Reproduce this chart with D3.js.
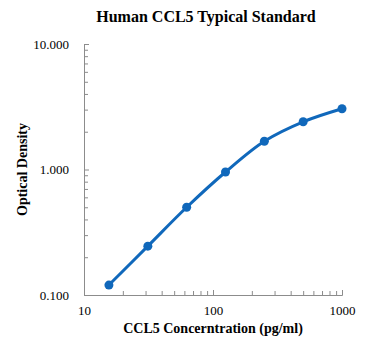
<!DOCTYPE html>
<html>
<head>
<meta charset="utf-8">
<script src="https://cdn.jsdelivr.net/npm/d3@7"></script>
<style>
  body { margin: 0; background: #fff; }
</style>
</head>
<body>
<div id="chart"></div>
<script>
// standard curve data
const concentrations = [15.6, 31.25, 62.5, 125, 250, 500, 1000];
const opticalDensity = [0.12, 0.245, 0.50, 0.955, 1.68, 2.40, 3.05];
const xTickValues = [10, 100, 1000];
const yTickValues = [0.1, 1, 10];

const width = 371, height = 351;
const margin = { top: 44, right: 29, bottom: 56, left: 84 };
const innerW = width - margin.left - margin.right;
const innerH = height - margin.top - margin.bottom;
const blue = "#1068bb";
const axisGrey = "#8c8c8c";
const serif = "'Times New Roman', 'Liberation Serif', 'DejaVu Serif', serif";

const svg = d3.select("#chart").append("svg")
    .attr("width", width)
    .attr("height", height)
    .attr("font-family", serif);

const g = svg.append("g")
    .attr("transform", `translate(${margin.left},${margin.top})`);

// log scales
const x = d3.scaleLog().domain([10, 1000]).range([0, innerW]);
const y = d3.scaleLog().domain([0.1, 10]).range([innerH, 0]);

// minor tick positions
const minorX = [];
[10, 100].forEach(d => { for (let i = 2; i <= 9; i++) minorX.push(d * i); });
const minorY = [];
[0.1, 1].forEach(d => { for (let i = 2; i <= 9; i++) minorY.push(+(d * i).toFixed(2)); });

// x axis (ticks point inward)
const xAxis = g.append("g").attr("transform", `translate(0,${innerH})`);
xAxis.call(d3.axisBottom(x).tickValues(xTickValues).tickSizeInner(-5).tickSizeOuter(0).tickPadding(11).tickFormat(d3.format("d")));
xAxis.append("g").call(d3.axisBottom(x).tickValues(minorX).tickSizeInner(-4).tickSizeOuter(0).tickFormat(""));
xAxis.selectAll("path.domain").attr("stroke", axisGrey);
xAxis.selectAll("line").attr("stroke", axisGrey);
xAxis.attr("font-family", serif).attr("font-size", 13);
xAxis.selectAll("text").attr("fill", "#000");

// y axis (ticks point inward)
const yAxis = g.append("g");
yAxis.call(d3.axisLeft(y).tickValues(yTickValues).tickSizeInner(-5).tickSizeOuter(0).tickPadding(15).tickFormat(d3.format(".3f")));
yAxis.append("g").call(d3.axisLeft(y).tickValues(minorY).tickSizeInner(-4).tickSizeOuter(0).tickFormat(""));
yAxis.selectAll("path.domain").attr("stroke", axisGrey);
yAxis.selectAll("line").attr("stroke", axisGrey);
yAxis.attr("font-family", serif).attr("font-size", 13);
yAxis.selectAll("text").attr("fill", "#000");

// smoothed line
const data = concentrations.map((c, i) => ({ c: c, od: opticalDensity[i] }));
const line = d3.line()
    .x(d => x(d.c))
    .y(d => y(d.od))
    .curve(d3.curveCatmullRom.alpha(0.5));

g.append("path")
    .datum(data)
    .attr("fill", "none")
    .attr("stroke", blue)
    .attr("stroke-width", 3)
    .attr("d", line);

g.selectAll(".dot")
    .data(data)
    .enter().append("circle")
    .attr("class", "dot")
    .attr("cx", d => x(d.c))
    .attr("cy", d => y(d.od))
    .attr("r", 4.5)
    .attr("fill", blue);

// title
svg.append("text")
    .attr("x", 206)
    .attr("y", 22)
    .attr("text-anchor", "middle")
    .attr("font-size", "16px")
    .attr("font-weight", "bold")
    .text("Human CCL5 Typical Standard");

// x label
svg.append("text")
    .attr("x", 213)
    .attr("y", 333)
    .attr("text-anchor", "middle")
    .attr("font-size", "14px")
    .attr("font-weight", "bold")
    .text("CCL5 Concerntration (pg/ml)");

// y label
svg.append("text")
    .attr("transform", `translate(27,${margin.top + innerH / 2}) rotate(-90)`)
    .attr("text-anchor", "middle")
    .attr("font-size", "14px")
    .attr("font-weight", "bold")
    .text("Optical Density");
</script>
</body>
</html>
